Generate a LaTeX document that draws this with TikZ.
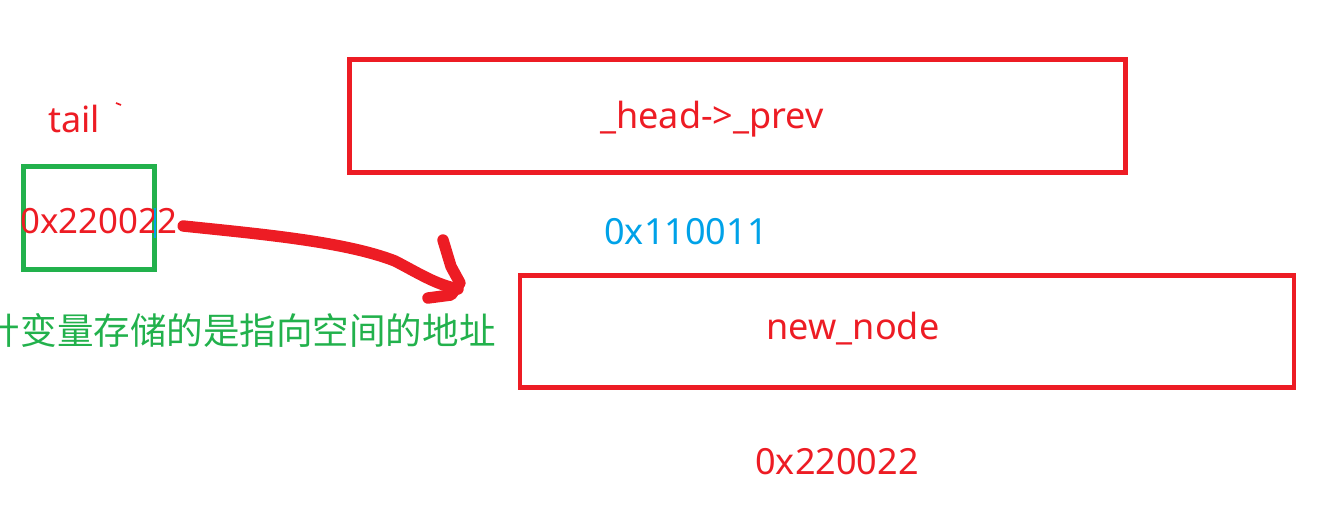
\documentclass[tikz,border=0pt]{standalone}
\usepackage{fontspec}
\setmainfont{Noto Sans}
\newfontfamily\cjk{Noto Sans CJK SC}
\usetikzlibrary{positioning,calc}
\definecolor{pred}{HTML}{ED1C24}
\definecolor{pgreen}{HTML}{22B14C}
\definecolor{pblue}{HTML}{00A2E8}
\begin{document}
\begin{tikzpicture}[font=\fontsize{20.5pt}{24pt}\selectfont]
\tikzstyle{box}=[draw=pred,line width=2.8pt,inner sep=0pt]
\tikzstyle{lbl}=[text=pred,inner sep=0pt]
\useasboundingbox (0,0) rectangle (26.34,10.58);
% left: pointer variable
\node[lbl] (tail) at (1.48,8.20) {tail};
\node[draw=pgreen,line width=2.6pt,minimum width=2.62cm,minimum height=2.06cm] (var) at (1.78,6.22) {};
\node[lbl,font=\fontsize{19.8pt}{24pt}\selectfont] (val) at (1.98,6.16) {0x220022};
\draw[pred,line width=1pt] (2.32,8.52) -- (2.42,8.48);
\draw[pblue,line width=1.1pt] (3.10,6.42) -- (3.10,5.82);
\node[text=pgreen,anchor=east,inner sep=0pt,font=\cjk\fontsize{20.8pt}{25pt}\selectfont] (note) at (9.92,3.98) {指针变量存储的是指向空间的地址};
% right: list nodes
\node[box,minimum width=15.52cm,minimum height=2.26cm] (prev) at (14.75,8.26) {};
\node[lbl] at (14.24,8.20) {\_head->\_prev};
\node[text=pblue,inner sep=0pt] (addr1) at (13.72,5.94) {0x110011};
\node[box,minimum width=15.48cm,minimum height=2.25cm] (new) at (18.14,3.95) {};
\node[lbl] at (17.06,4.00) {new\_node};
\node[lbl] (addr2) at (16.74,1.34) {0x220022};
% hand drawn arrow
\coordinate (tip) at (9.16,4.80);
\draw[pred,line width=6.5pt,line cap=round,line join=round] ($(val.east)+(0.1,-0.1)$) .. controls (5.2,5.90) and (6.9,5.75) .. (7.9,5.36) .. controls (8.4,5.10) and (8.7,4.90) .. (tip);
\draw[pred,line width=6.5pt,line cap=round,line join=round] (8.86,5.78) -- (9.02,5.25) -- (9.20,4.92) -- (9.02,4.68) -- (8.56,4.62);
\end{tikzpicture}
\end{document}
